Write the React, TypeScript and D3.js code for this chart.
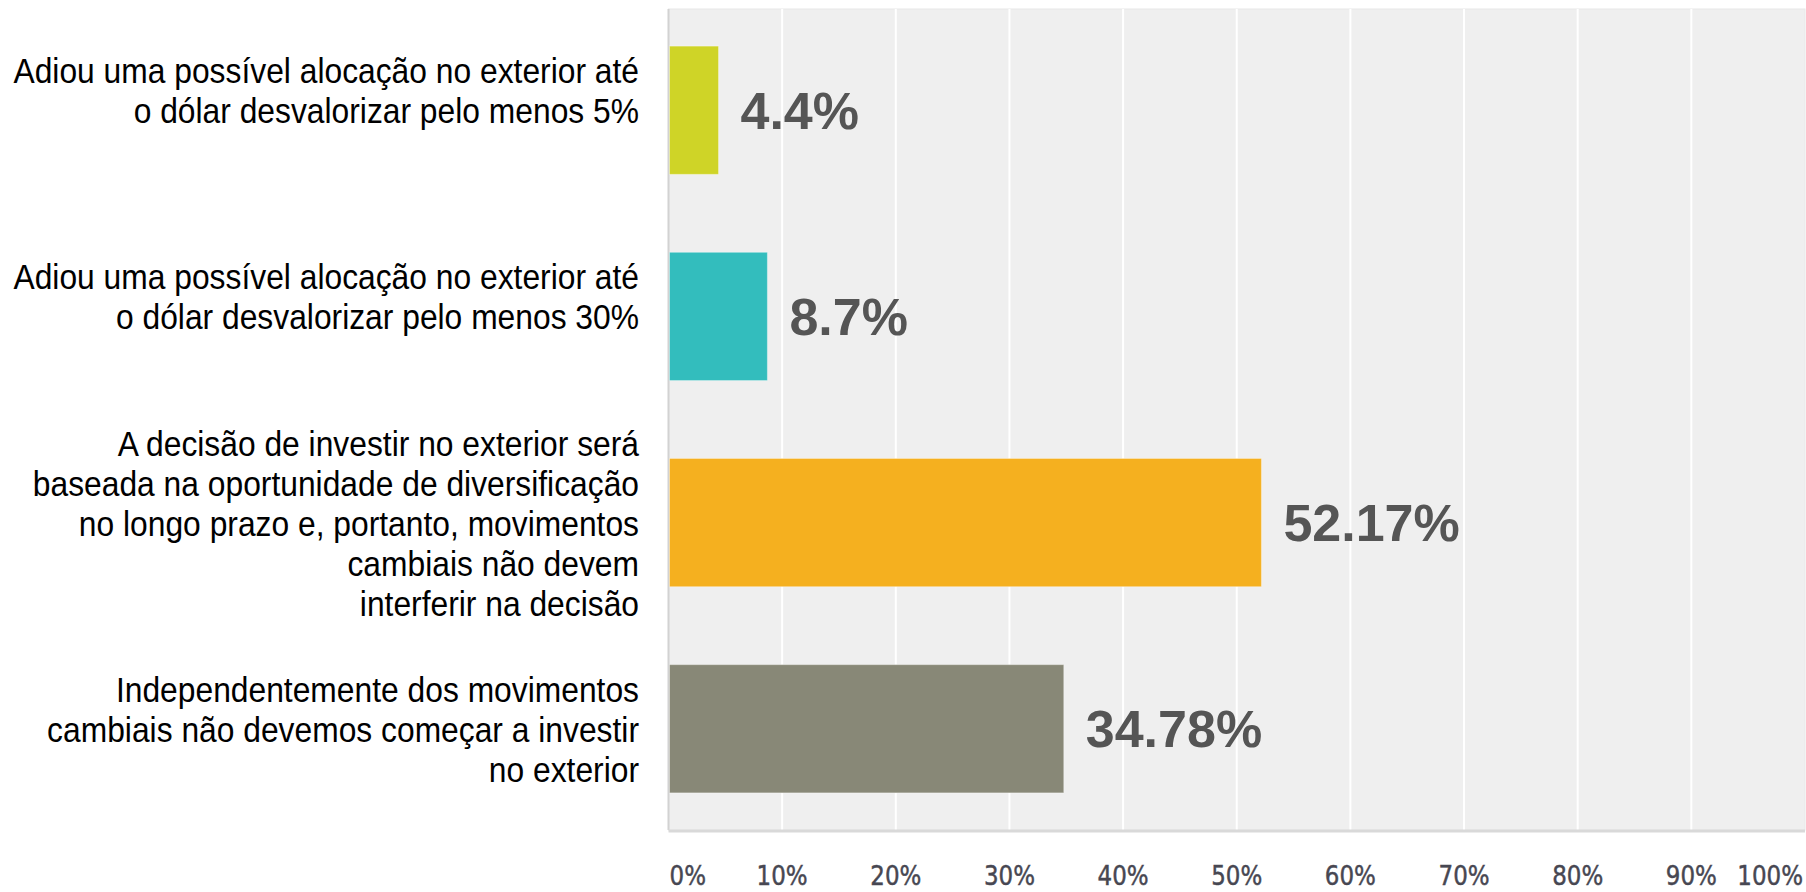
import React, {useEffect, useRef} from 'react';
import * as d3 from 'd3';

// answer options (one array entry per line)
const categories: string[][] = [
    ['Adiou uma possível alocação no exterior até', 'o dólar desvalorizar pelo menos 5%'],
    ['Adiou uma possível alocação no exterior até', 'o dólar desvalorizar pelo menos 30%'],
    ['A decisão de investir no exterior será', 'baseada na oportunidade de diversificação',
        'no longo prazo e, portanto, movimentos', 'cambiais não devem', 'interferir na decisão'],
    ['Independentemente dos movimentos', 'cambiais não devemos começar a investir', 'no exterior'],
];
const values = [4.4, 8.7, 52.17, 34.78];
const valueLabels = ['4.4%', '8.7%', '52.17%', '34.78%'];
const barColors = ['#cfd427', '#33bdbd', '#f5b01f', '#888877'];
const tickValues = [0, 10, 20, 30, 40, 50, 60, 70, 80, 90, 100];

const W = 1806;
const H = 892;

const App = () => {
    const ref = useRef<SVGSVGElement>(null);

    useEffect(() => {
        const svg = d3.select(ref.current);
        svg.selectAll('*').remove();

        const plot = {left: 668.5, right: 1805, top: 9, bottom: 830};

        const x = d3.scaleLinear().domain([0, 100]).range([plot.left, plot.right]);
        const y = d3.scaleBand<number>()
            .domain(values.map((_, i) => i))
            .range([plot.top, plot.bottom])
            .paddingInner(0.378)
            .paddingOuter(0.18);

        // plot background
        svg.append('rect')
            .attr('x', plot.left).attr('y', plot.top)
            .attr('width', plot.right - plot.left).attr('height', plot.bottom - plot.top)
            .attr('fill', '#efefef')
            .attr('stroke', '#e8e8e8').attr('stroke-width', 1);

        // white gridlines
        svg.append('g')
            .selectAll('line')
            .data(tickValues.filter(t => t > 0 && t < 100))
            .enter().append('line')
            .attr('x1', d => x(d)).attr('x2', d => x(d))
            .attr('y1', plot.top).attr('y2', plot.bottom)
            .attr('stroke', '#ffffff').attr('stroke-width', 2);

        // left and bottom borders
        svg.append('line')
            .attr('x1', plot.left).attr('x2', plot.left)
            .attr('y1', plot.top).attr('y2', plot.bottom)
            .attr('stroke', '#d2d2d2').attr('stroke-width', 2);
        svg.append('line')
            .attr('x1', plot.left).attr('x2', plot.right)
            .attr('y1', plot.bottom + 1).attr('y2', plot.bottom + 1)
            .attr('stroke', '#d9d9d9').attr('stroke-width', 3);

        // bars
        svg.append('g')
            .selectAll('rect')
            .data(values)
            .enter().append('rect')
            .attr('x', x(0) + 1)
            .attr('y', (_, i) => y(i) as number)
            .attr('width', d => x(d) - x(0) - 1)
            .attr('height', y.bandwidth())
            .attr('fill', (_, i) => barColors[i])
            .attr('stroke', 'rgba(255,255,255,0.35)')
            .attr('stroke-width', 1);

        // value labels
        svg.append('g')
            .selectAll('text')
            .data(values)
            .enter().append('text')
            .attr('x', d => x(d) + 22)
            .attr('y', (_, i) => (y(i) as number) + y.bandwidth() / 2 + 18.5)
            .attr('font-family', '"Liberation Sans", Arial, sans-serif')
            .attr('font-weight', 'bold')
            .attr('font-size', 52)
            .attr('fill', '#555555')
            .text((_, i) => valueLabels[i]);

        // category labels, right aligned; short labels sit in a 3-line box from the top
        const lineH = 40;
        const catG = svg.append('g');
        categories.forEach((lines, i) => {
            const cy = (y(i) as number) + y.bandwidth() / 2;
            const boxLines = Math.max(lines.length, 3);
            lines.forEach((line, j) => {
                const by = cy - (boxLines - 1) * lineH / 2 + j * lineH + 13;
                catG.append('text')
                    .attr('transform', `translate(639,${by}) scale(1,1.12)`)
                    .attr('text-anchor', 'end')
                    .attr('font-family', '"Liberation Sans", Arial, sans-serif')
                    .attr('font-size', 31.8)
                    .attr('fill', '#000000')
                    .text(line);
            });
        });

        // x tick labels
        svg.append('g')
            .selectAll('text')
            .data(tickValues)
            .enter().append('text')
            .attr('transform', d => {
                const tx = d === 0 ? x(d) + 1 : d === 100 ? x(d) - 2 : x(d);
                return `translate(${tx},885) scale(1,1.12)`;
            })
            .attr('text-anchor', d => d === 0 ? 'start' : d === 100 ? 'end' : 'middle')
            .attr('font-family', '"DejaVu Sans", Verdana, sans-serif')
            .attr('font-size', 23)
            .attr('fill', '#474752')
            .attr('stroke', '#474752')
            .attr('stroke-width', 0.4)
            .text(d => `${d}%`);
    }, []);

    return (
        <svg ref={ref} width={W} height={H}
             style={{position: 'absolute', left: 0, top: 0, background: '#ffffff'}}/>
    );
};

export default App;
